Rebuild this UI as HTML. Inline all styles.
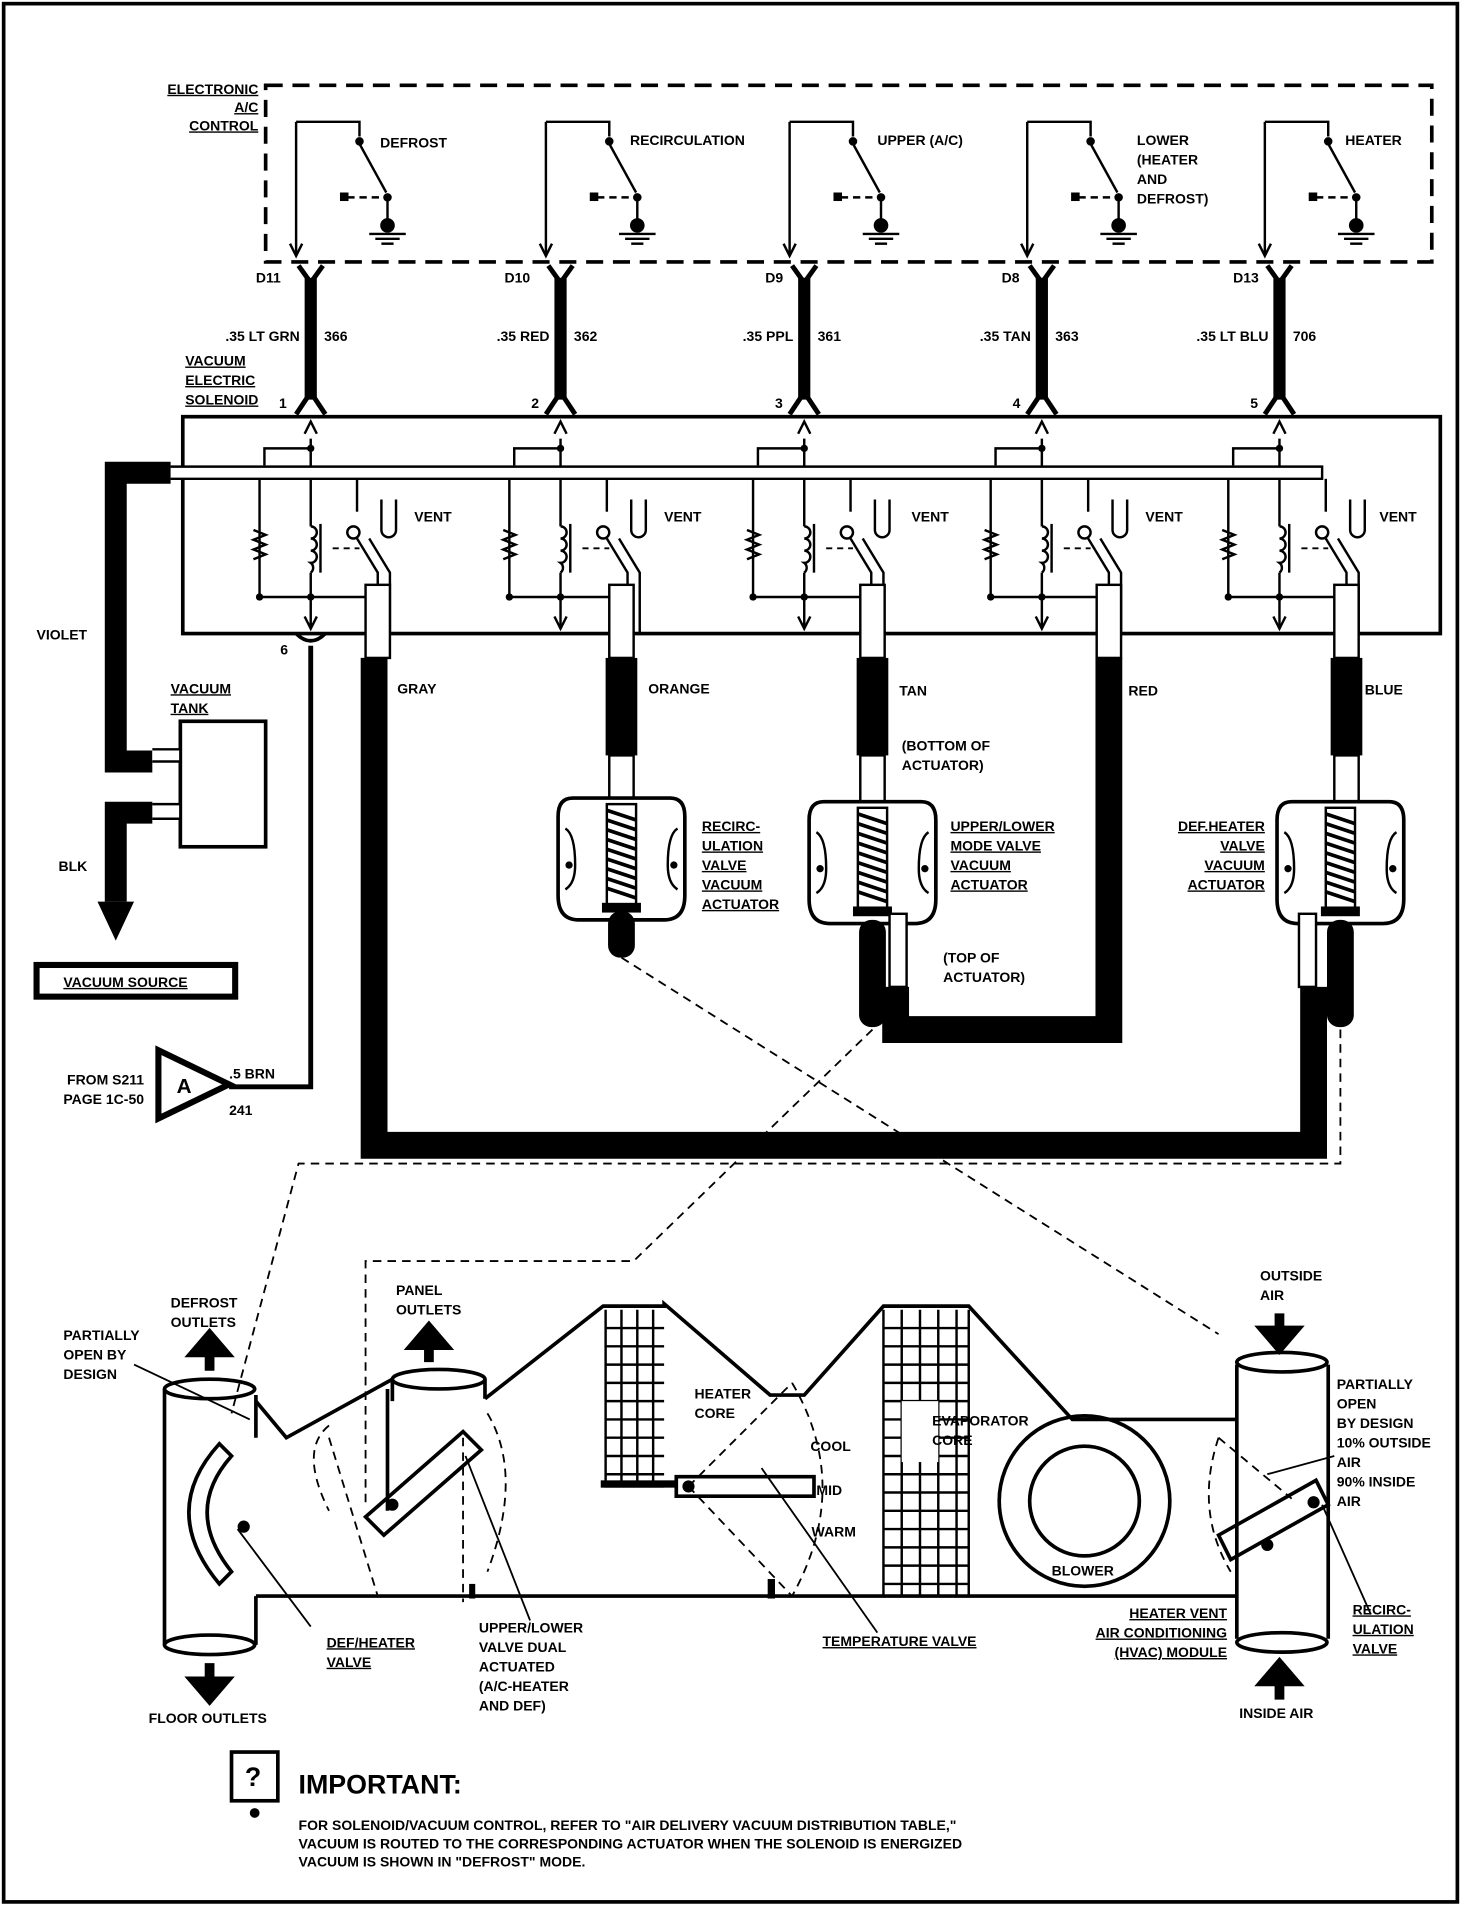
<!DOCTYPE html>
<html><head><meta charset="utf-8"><style>
html,body{margin:0;padding:0;background:#fff}
svg{display:block}
text{font-family:"Liberation Sans",sans-serif;font-weight:bold;font-size:11.5px;fill:#000}
</style></head><body>
<svg width="1472" height="1908" viewBox="0 0 1208 1566" preserveAspectRatio="none" xmlns="http://www.w3.org/2000/svg">
<defs>
<g id="sw">
  <path d="M-12,100 H40 V112" fill="none" stroke="#000" stroke-width="2"/>
  <circle cx="40" cy="116" r="3.5"/>
  <line x1="40" y1="118" x2="62" y2="158" stroke="#000" stroke-width="2"/>
  <circle cx="63" cy="162" r="3.5"/>
  <line x1="63" y1="162" x2="63" y2="184" stroke="#000" stroke-width="2"/>
  <circle cx="63" cy="185" r="6"/>
  <line x1="48" y1="192" x2="78" y2="192" stroke="#000" stroke-width="2"/>
  <line x1="53" y1="196" x2="73" y2="196" stroke="#000" stroke-width="2"/>
  <line x1="58" y1="200" x2="68" y2="200" stroke="#000" stroke-width="2"/>
  <line x1="30" y1="162" x2="58" y2="162" stroke="#000" stroke-width="2" stroke-dasharray="6,4"/>
  <rect x="24" y="158" width="7" height="7"/>
  <line x1="-12" y1="100" x2="-12" y2="208" stroke="#000" stroke-width="2"/>
  <path d="M-17,200 L-12,210 L-7,200" fill="none" stroke="#000" stroke-width="2"/>
</g>
<g id="wire">
  <path d="M-10,218 Q0,232 0,232 Q0,232 10,218" fill="none" stroke="#000" stroke-width="4"/>
  <rect x="-5" y="228" width="10" height="100"/>
  <path d="M-12,340 Q0,322 0,322 Q0,322 12,340" fill="none" stroke="#000" stroke-width="4"/>
</g>
<g id="unit">
  <line x1="0" y1="360" x2="0" y2="392" stroke="#000" stroke-width="2"/>
  <path d="M-5,356 L0,346 L5,356" fill="none" stroke="#000" stroke-width="2"/>
  <path d="M-38,382 V368 H0" fill="none" stroke="#000" stroke-width="2"/>
  <circle cx="0" cy="368" r="3"/>
  <path d="M-42,393 V490 H50" fill="none" stroke="#000" stroke-width="2"/>
  <path d="M-47,435 l10,4 l-10,4 l10,4 l-10,4 l10,4 l-10,4" fill="none" stroke="#000" stroke-width="2"/>
  <path d="M0,393 V432 M0,470 V490" fill="none" stroke="#000" stroke-width="2"/>
  <path d="M0,432 a5,5 0 0 1 0,10 a5,5 0 0 1 0,10 a5,5 0 0 1 0,10 a5,5 0 0 1 0,8" fill="none" stroke="#000" stroke-width="2"/>
  <line x1="8" y1="430" x2="8" y2="470" stroke="#000" stroke-width="2"/>
  <circle cx="0" cy="490" r="3"/><circle cx="-42" cy="490" r="3"/>
  <line x1="0" y1="490" x2="0" y2="515" stroke="#000" stroke-width="2"/>
  <path d="M-5,506 L0,516 L5,506" fill="none" stroke="#000" stroke-width="2"/>
  <line x1="18" y1="450" x2="40" y2="450" stroke="#000" stroke-width="1.5" stroke-dasharray="5,4"/>
  <path d="M38,393 V420" fill="none" stroke="#000" stroke-width="2"/>
  <circle cx="35" cy="437" r="5" fill="#fff" stroke="#000" stroke-width="2"/>
  <path d="M38,442 L55,470 V520 M48,442 L65,470 V520" fill="none" stroke="#000" stroke-width="2"/>
  <path d="M58,410 V435 a6,6 0 0 0 12,0 V410" fill="none" stroke="#000" stroke-width="2"/>
</g>
<g id="act">
  <path d="M-40,0 H40 Q52,0 52,15 V80 Q52,100 35,100 H-35 Q-52,100 -52,80 V15 Q-52,0 -40,0 Z" fill="#fff" stroke="#000" stroke-width="3"/>
  <path d="M-46,25 Q-38,30 -38,55 Q-38,70 -46,75 M46,25 Q38,30 38,55 Q38,70 46,75" fill="none" stroke="#000" stroke-width="2"/>
  <circle cx="-43" cy="55" r="3"/><circle cx="43" cy="55" r="3"/>
  <rect x="-12" y="5" width="24" height="85" fill="#fff" stroke="#000" stroke-width="2"/>
  <path d="M-12,10 L12,18 M-12,18 L12,26 M-12,26 L12,34 M-12,34 L12,42 M-12,42 L12,50 M-12,50 L12,58 M-12,58 L12,66 M-12,66 L12,74 M-12,74 L12,82" stroke="#000" stroke-width="3"/>
  <rect x="-16" y="86" width="32" height="8"/>
</g>
</defs>
<rect x="3" y="3" width="1193" height="1558" fill="none" stroke="#000" stroke-width="3"/>
<rect x="218" y="70" width="957" height="145" fill="none" stroke="#000" stroke-width="3" stroke-dasharray="14,8"/>
<text x="212" y="77" text-anchor="end" text-decoration="underline">ELECTRONIC</text>
<text x="212" y="92" text-anchor="end" text-decoration="underline">A/C</text>
<text x="212" y="107" text-anchor="end" text-decoration="underline">CONTROL</text>
<use href="#sw" x="255"/><use href="#sw" x="460"/><use href="#sw" x="660"/><use href="#sw" x="855"/><use href="#sw" x="1050"/>
<text x="312" y="121">DEFROST</text><text x="517" y="119">RECIRCULATION</text><text x="720" y="119">UPPER (A/C)</text>
<text x="933" y="119">LOWER</text><text x="933" y="135">(HEATER</text><text x="933" y="151">AND</text><text x="933" y="167">DEFROST)</text>
<text x="1104" y="119">HEATER</text>
<use href="#wire" x="255"/><use href="#wire" x="460"/><use href="#wire" x="660"/><use href="#wire" x="855"/><use href="#wire" x="1050"/>
<text x="210" y="232">D11</text><text x="414" y="232">D10</text><text x="628" y="232">D9</text><text x="822" y="232">D8</text><text x="1012" y="232">D13</text>
<text x="246" y="280" text-anchor="end">.35 LT GRN</text><text x="266" y="280">366</text>
<text x="451" y="280" text-anchor="end">.35 RED</text><text x="471" y="280">362</text>
<text x="651" y="280" text-anchor="end">.35 PPL</text><text x="671" y="280">361</text>
<text x="846" y="280" text-anchor="end">.35 TAN</text><text x="866" y="280">363</text>
<text x="1041" y="280" text-anchor="end">.35 LT BLU</text><text x="1061" y="280">706</text>
<text x="152" y="300" text-decoration="underline">VACUUM</text><text x="152" y="316" text-decoration="underline">ELECTRIC</text><text x="152" y="332" text-decoration="underline">SOLENOID</text>
<text x="229" y="335">1</text><text x="436" y="335">2</text><text x="636" y="335">3</text><text x="831" y="335">4</text><text x="1026" y="335">5</text>
<rect x="150" y="342" width="1032" height="178" fill="#fff" stroke="#000" stroke-width="3"/>
<use href="#unit" x="255"/><use href="#unit" x="460"/><use href="#unit" x="660"/><use href="#unit" x="855"/><use href="#unit" x="1050"/>
<path d="M140,383 H1085 V393 H140" fill="#fff" stroke="#000" stroke-width="2"/>
<text x="340" y="428">VENT</text><text x="545" y="428">VENT</text><text x="748" y="428">VENT</text><text x="940" y="428">VENT</text><text x="1132" y="428">VENT</text>
<path d="M140,388 H95 V625 H125" fill="none" stroke="#000" stroke-width="18"/>
<text x="30" y="525">VIOLET</text>
<path d="M243,520 Q255,532 267,520" fill="none" stroke="#000" stroke-width="3"/>
<text x="230" y="537">6</text>
<path d="M255,530 V892 H188" fill="none" stroke="#000" stroke-width="4"/>
<text x="140" y="569" text-decoration="underline">VACUUM</text><text x="140" y="585" text-decoration="underline">TANK</text>
<rect x="148" y="592" width="70" height="103" fill="none" stroke="#000" stroke-width="3"/>
<path d="M125,615 H148 V625 H125" fill="#fff" stroke="#000" stroke-width="2"/>
<path d="M125,660 H148 V672 H125" fill="#fff" stroke="#000" stroke-width="2"/>
<path d="M125,667 H95 V740" fill="none" stroke="#000" stroke-width="18"/>
<path d="M80,740 H110 L95,772 Z"/>
<text x="48" y="715">BLK</text>
<rect x="30" y="792" width="163" height="26" fill="none" stroke="#000" stroke-width="5"/>
<text x="52" y="810" text-decoration="underline">VACUUM SOURCE</text>
<text x="55" y="890">FROM S211</text><text x="52" y="906">PAGE 1C-50</text>
<path d="M130,862 L188,890 L130,918 Z" fill="#fff" stroke="#000" stroke-width="5"/>
<text x="145" y="897" style="font-size:17px">A</text>
<text x="188" y="885">.5 BRN</text><text x="188" y="915">241</text>
<!-- hoses -->
<rect x="300" y="480" width="20" height="60" fill="#fff" stroke="#000" stroke-width="2"/>
<path d="M307,540 V940 H1078 V810" fill="none" stroke="#000" stroke-width="22"/>
<text x="326" y="569">GRAY</text>
<rect x="500" y="480" width="20" height="60" fill="#fff" stroke="#000" stroke-width="2"/>
<rect x="497" y="540" width="26" height="80"/>
<rect x="500" y="620" width="20" height="40" fill="#fff" stroke="#000" stroke-width="2"/>
<text x="532" y="569">ORANGE</text>
<rect x="706" y="480" width="20" height="60" fill="#fff" stroke="#000" stroke-width="2"/>
<rect x="703" y="540" width="26" height="80"/>
<rect x="706" y="620" width="20" height="40" fill="#fff" stroke="#000" stroke-width="2"/>
<text x="738" y="571">TAN</text><text x="740" y="616">(BOTTOM OF</text><text x="740" y="632">ACTUATOR)</text>
<rect x="900" y="480" width="20" height="60" fill="#fff" stroke="#000" stroke-width="2"/>
<path d="M910,540 V845 H735 V810" fill="none" stroke="#000" stroke-width="22"/>
<text x="926" y="571">RED</text>
<rect x="1095" y="480" width="20" height="60" fill="#fff" stroke="#000" stroke-width="2"/>
<rect x="1092" y="540" width="26" height="80"/>
<rect x="1095" y="620" width="20" height="40" fill="#fff" stroke="#000" stroke-width="2"/>
<text x="1120" y="570">BLUE</text>
<use href="#act" x="510" y="655"/><use href="#act" x="716" y="658"/><use href="#act" x="1100" y="658"/>
<rect x="499" y="748" width="22" height="38" rx="10"/>
<rect x="705" y="755" width="22" height="88" rx="10"/><rect x="730" y="750" width="14" height="60" fill="#fff" stroke="#000" stroke-width="2"/>
<rect x="1089" y="755" width="22" height="88" rx="10"/><rect x="1066" y="750" width="14" height="60" fill="#fff" stroke="#000" stroke-width="2"/>
<text x="576" y="682" text-decoration="underline">RECIRC-</text><text x="576" y="698" text-decoration="underline">ULATION</text><text x="576" y="714" text-decoration="underline">VALVE</text><text x="576" y="730" text-decoration="underline">VACUUM</text><text x="576" y="746" text-decoration="underline">ACTUATOR</text>
<text x="780" y="682" text-decoration="underline">UPPER/LOWER</text><text x="780" y="698" text-decoration="underline">MODE VALVE</text><text x="780" y="714" text-decoration="underline">VACUUM</text><text x="780" y="730" text-decoration="underline">ACTUATOR</text>
<text x="774" y="790">(TOP OF</text><text x="774" y="806">ACTUATOR)</text>
<text x="1038" y="682" text-anchor="end" text-decoration="underline">DEF.HEATER</text><text x="1038" y="698" text-anchor="end" text-decoration="underline">VALVE</text><text x="1038" y="714" text-anchor="end" text-decoration="underline">VACUUM</text><text x="1038" y="730" text-anchor="end" text-decoration="underline">ACTUATOR</text>
<!-- dashed links -->
<g fill="none" stroke="#000" stroke-width="1.5" stroke-dasharray="7,5">
<path d="M510,786 L1000,1095"/>
<path d="M716,845 L520,1035 H300 V1235"/>
<path d="M1100,845 V955 H245 L190,1160"/>
<path d="M380,1180 L380,1315 M270,1180 L310,1310"/>
<path d="M270,1170 Q245,1190 270,1240 M400,1160 Q430,1210 400,1290"/>
<path d="M565,1220 L650,1135 M565,1220 L650,1310 M650,1135 Q700,1220 650,1310"/>
<path d="M1000,1180 L1060,1230 M1000,1180 Q980,1240 1010,1290"/>
</g>
<!-- HVAC -->
<g fill="none" stroke="#000" stroke-width="3">
<path d="M210,1150 L235,1180 L322,1132 M398,1148 L495,1072 H545 V1070 L632,1145 H660 L725,1072 H795 L880,1165 H1015"/>
<path d="M210,1310 H1015"/>
<path d="M135,1140 V1350 M210,1145 V1180 M210,1310 V1350"/>
<ellipse cx="172" cy="1140" rx="37" ry="8"/><ellipse cx="172" cy="1350" rx="37" ry="8"/>
<path d="M322,1132 V1150 M398,1132 V1148"/><ellipse cx="360" cy="1132" rx="38" ry="8"/>
<path d="M1015,1120 V1345 M1090,1120 V1345"/><ellipse cx="1052" cy="1118" rx="37" ry="8"/><ellipse cx="1052" cy="1348" rx="37" ry="8"/>
<circle cx="890" cy="1232" r="70"/><circle cx="890" cy="1232" r="45"/>
<path d="M180,1185 Q130,1240 180,1300 L190,1290 Q150,1240 190,1195 Z"/>
<path d="M300,1245 L380,1175 L395,1190 L315,1260 Z"/>
<path d="M318,1140 V1240"/>
<path d="M555,1212 H668 V1228 H555 Z"/>
<path d="M1000,1260 L1080,1215 L1090,1235 L1010,1280 Z"/>
</g>
<g stroke="#000" stroke-width="2" fill="none">
<path d="M497,1075 V1220 H545 M510,1075 V1220 M523,1075 V1220 M536,1075 V1220 M497,1090 H545 M497,1105 H545 M497,1120 H545 M497,1135 H545 M497,1150 H545 M497,1165 H545 M497,1180 H545 M497,1195 H545 M497,1210 H545"/>
<path d="M725,1075 V1310 M740,1075 V1310 M755,1075 V1310 M770,1075 V1310 M785,1075 V1310 M795,1075 V1310 M725,1090 H795 M725,1105 H795 M725,1120 H795 M725,1135 H795 M725,1150 H795 M725,1165 H795 M725,1180 H795 M725,1195 H795 M725,1210 H795 M725,1225 H795 M725,1240 H795 M725,1255 H795 M725,1270 H795 M725,1285 H795 M725,1300 H795"/>
</g>
<rect x="740" y="1150" width="30" height="50" fill="#fff"/>
<rect x="493" y="1215" width="62" height="6"/>
<circle cx="200" cy="1253" r="5"/><circle cx="322" cy="1235" r="5"/><circle cx="565" cy="1220" r="5"/><circle cx="1040" cy="1268" r="5"/><circle cx="1078" cy="1233" r="5"/>
<rect x="385" y="1300" width="5" height="12"/><rect x="630" y="1296" width="6" height="16"/>
<path d="M172,1110 l-12,0 l12,-14 l12,14 l-12,0 V1125" stroke="#000" stroke-width="8" fill="#000"/>
<path d="M352,1104 l-12,0 l12,-14 l12,14 l-12,0 V1118" stroke="#000" stroke-width="8" fill="#000"/>
<path d="M172,1365 V1380 l-12,0 l12,14 l12,-14 l-12,0" stroke="#000" stroke-width="8" fill="#000"/>
<path d="M1050,1078 V1092 l-12,0 l12,14 l12,-14 l-12,0" stroke="#000" stroke-width="8" fill="#000"/>
<path d="M1050,1395 V1380 l-12,0 l12,-14 l12,14 l-12,0" stroke="#000" stroke-width="8" fill="#000"/>
<line x1="110" y1="1120" x2="205" y2="1165" stroke="#000" stroke-width="1.5"/>
<line x1="195" y1="1255" x2="255" y2="1335" stroke="#000" stroke-width="1.5"/>
<line x1="382" y1="1195" x2="435" y2="1330" stroke="#000" stroke-width="1.5"/>
<line x1="625" y1="1205" x2="720" y2="1340" stroke="#000" stroke-width="1.5"/>
<line x1="1095" y1="1195" x2="1040" y2="1210" stroke="#000" stroke-width="1.5"/>
<line x1="1085" y1="1235" x2="1125" y2="1325" stroke="#000" stroke-width="1.5"/>
<text x="140" y="1073">DEFROST</text><text x="140" y="1089">OUTLETS</text>
<text x="52" y="1100">PARTIALLY</text><text x="52" y="1116">OPEN BY</text><text x="52" y="1132">DESIGN</text>
<text x="325" y="1063">PANEL</text><text x="325" y="1079">OUTLETS</text>
<text x="570" y="1148">HEATER</text><text x="570" y="1164">CORE</text>
<text x="665" y="1191">COOL</text><text x="670" y="1227">MID</text><text x="666" y="1261">WARM</text>
<text x="765" y="1170">EVAPORATOR</text><text x="765" y="1186">CORE</text>
<text x="863" y="1293">BLOWER</text>
<text x="1034" y="1051">OUTSIDE</text><text x="1034" y="1067">AIR</text>
<text x="1097" y="1140">PARTIALLY</text><text x="1097" y="1156">OPEN</text><text x="1097" y="1172">BY DESIGN</text><text x="1097" y="1188">10% OUTSIDE</text><text x="1097" y="1204">AIR</text><text x="1097" y="1220">90% INSIDE</text><text x="1097" y="1236">AIR</text>
<text x="1110" y="1325" text-decoration="underline">RECIRC-</text><text x="1110" y="1341" text-decoration="underline">ULATION</text><text x="1110" y="1357" text-decoration="underline">VALVE</text>
<text x="1007" y="1328" text-anchor="end" text-decoration="underline">HEATER VENT</text><text x="1007" y="1344" text-anchor="end" text-decoration="underline">AIR CONDITIONING</text><text x="1007" y="1360" text-anchor="end" text-decoration="underline">(HVAC) MODULE</text>
<text x="268" y="1352" text-decoration="underline">DEF/HEATER</text><text x="268" y="1368" text-decoration="underline">VALVE</text>
<text x="393" y="1340">UPPER/LOWER</text><text x="393" y="1356">VALVE DUAL</text><text x="393" y="1372">ACTUATED</text><text x="393" y="1388">(A/C-HEATER</text><text x="393" y="1404">AND DEF)</text>
<text x="675" y="1351" text-decoration="underline">TEMPERATURE VALVE</text>
<text x="122" y="1414">FLOOR OUTLETS</text>
<text x="1017" y="1410">INSIDE AIR</text>
<rect x="190" y="1438" width="38" height="40" fill="none" stroke="#000" stroke-width="3"/>
<text x="201" y="1466" style="font-size:22px">?</text>
<circle cx="209" cy="1488" r="4"/>
<text x="245" y="1472" style="font-size:22px">IMPORTANT:</text>
<text x="245" y="1502">FOR SOLENOID/VACUUM CONTROL, REFER TO "AIR DELIVERY VACUUM DISTRIBUTION TABLE,"</text>
<text x="245" y="1517">VACUUM IS ROUTED TO THE CORRESPONDING ACTUATOR WHEN THE SOLENOID IS ENERGIZED</text>
<text x="245" y="1532">VACUUM IS SHOWN IN "DEFROST" MODE.</text>
</svg>
</body></html>
